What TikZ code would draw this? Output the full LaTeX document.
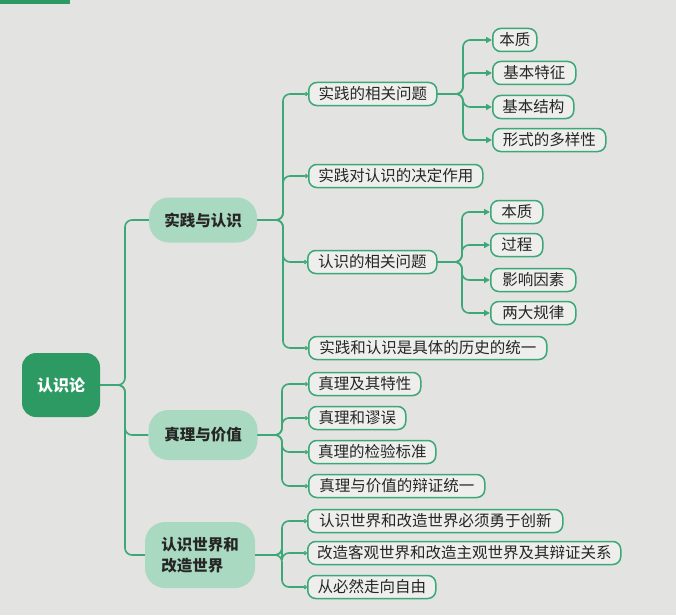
\documentclass[tikz,border=0pt]{standalone}
\usepackage{fontspec}
\setmainfont{Noto Sans CJK SC}
\usetikzlibrary{arrows.meta}
\definecolor{paper}{HTML}{E3E3E1}
\definecolor{lgreen}{HTML}{3DA877}
\definecolor{dgreen}{HTML}{2E9A63}
\definecolor{pill}{HTML}{A9D9C0}
\definecolor{txt}{HTML}{262626}
\begin{document}
\begin{tikzpicture}[x=1pt,y=-1pt,
 rootbox/.style={fill=dgreen, rounded corners=14pt, text=white, font=\fontsize{16}{18}\selectfont\bfseries, inner sep=0pt},
 pillbox/.style={fill=pill, rounded corners=20pt, text=txt, font=\fontsize{15.5}{21}\selectfont\bfseries, inner sep=0pt},
 leafbox/.style={draw=lgreen, line width=1.5pt, fill=paper!60!white, rounded corners=8pt, text=txt, font=\fontsize{15.5}{18}\selectfont, inner sep=0pt, minimum height=23pt, anchor=west},
 conn/.style={draw=lgreen, line width=1.6pt, rounded corners=7pt},
 pip/.style={conn, -{Circle[open,length=4pt,width=4pt,line width=1.2pt]}},
 arr/.style={conn, -{Triangle[length=6pt,width=6pt]}},
]
\fill[paper] (0,0) rectangle (676,615);
\useasboundingbox (0,0) rectangle (676,615);
\fill[dgreen] (0,0) rectangle (70,4);

% root
\node[rootbox, minimum width=78pt, minimum height=64pt] (r) at (61,385) {认识论};
% level 1
\node[pillbox, minimum width=108pt, minimum height=45pt] (a) at (203,220) {实践与认识};
\node[pillbox, minimum width=109pt, minimum height=50pt] (b) at (203,435) {真理与价值};
\node[pillbox, minimum width=110pt, minimum height=66pt, align=left] (c) at (200,555) {认识世界和\\改造世界};
% level 2
\node[leafbox, minimum width=128pt] (a1) at (308,94) {实践的相关问题};
\node[leafbox, minimum width=174pt] (a2) at (308,176) {实践对认识的决定作用};
\node[leafbox, minimum width=129pt] (a3) at (307,262) {认识的相关问题};
\node[leafbox, minimum width=238pt] (a4) at (308,348) {实践和认识是具体的历史的统一};
\node[leafbox, minimum width=112pt] (b1) at (308,384) {真理及其特性};
\node[leafbox, minimum width=97pt] (b2) at (308,418) {真理和谬误};
\node[leafbox, minimum width=127pt] (b3) at (308,452) {真理的检验标准};
\node[leafbox, minimum width=176pt] (b4) at (308,486) {真理与价值的辩证统一};
\node[leafbox, minimum width=255pt] (c1) at (307,521) {认识世界和改造世界必须勇于创新};
\node[leafbox, minimum width=313pt] (c2) at (307,553) {改造客观世界和改造主观世界及其辩证关系};
\node[leafbox, minimum width=128pt] (c3) at (307,587) {从必然走向自由};
% level 3
\node[leafbox, minimum width=44pt] (p1) at (492,40) {本质};
\node[leafbox, minimum width=83pt] (p2) at (492,73) {基本特征};
\node[leafbox, minimum width=81pt] (p3) at (492,107) {基本结构};
\node[leafbox, minimum width=113pt] (p4) at (492,140) {形式的多样性};
\node[leafbox, minimum width=52pt] (q1) at (490,212) {本质};
\node[leafbox, minimum width=52pt] (q2) at (490,245) {过程};
\node[leafbox, minimum width=85pt] (q3) at (490,280) {影响因素};
\node[leafbox, minimum width=85pt] (q4) at (490,313) {两大规律};

% connectors root
\foreach \n in {a,b,c} \draw[conn] (r.east) -- (125,385) |- (\n.west);
% level 2
\foreach \n in {a1,a2,a3,a4} \draw[pip] (a.east) -- (283,220) |- (\n.west);
\foreach \n in {b1,b2,b3,b4} \draw[pip] (b.east) -- (282,435) |- (\n.west);
\foreach \n in {c1,c2,c3} \draw[pip] (c.east) -- (282,555) |- (\n.west);
% level 3
\foreach \n in {p1,p2,p3,p4} \draw[arr] (a1.east) -- (463,94) |- (\n.west);
\foreach \n in {q1,q2,q3,q4} \draw[arr] (a3.east) -- (462,262) |- (\n.west);
\end{tikzpicture}
\end{document}
